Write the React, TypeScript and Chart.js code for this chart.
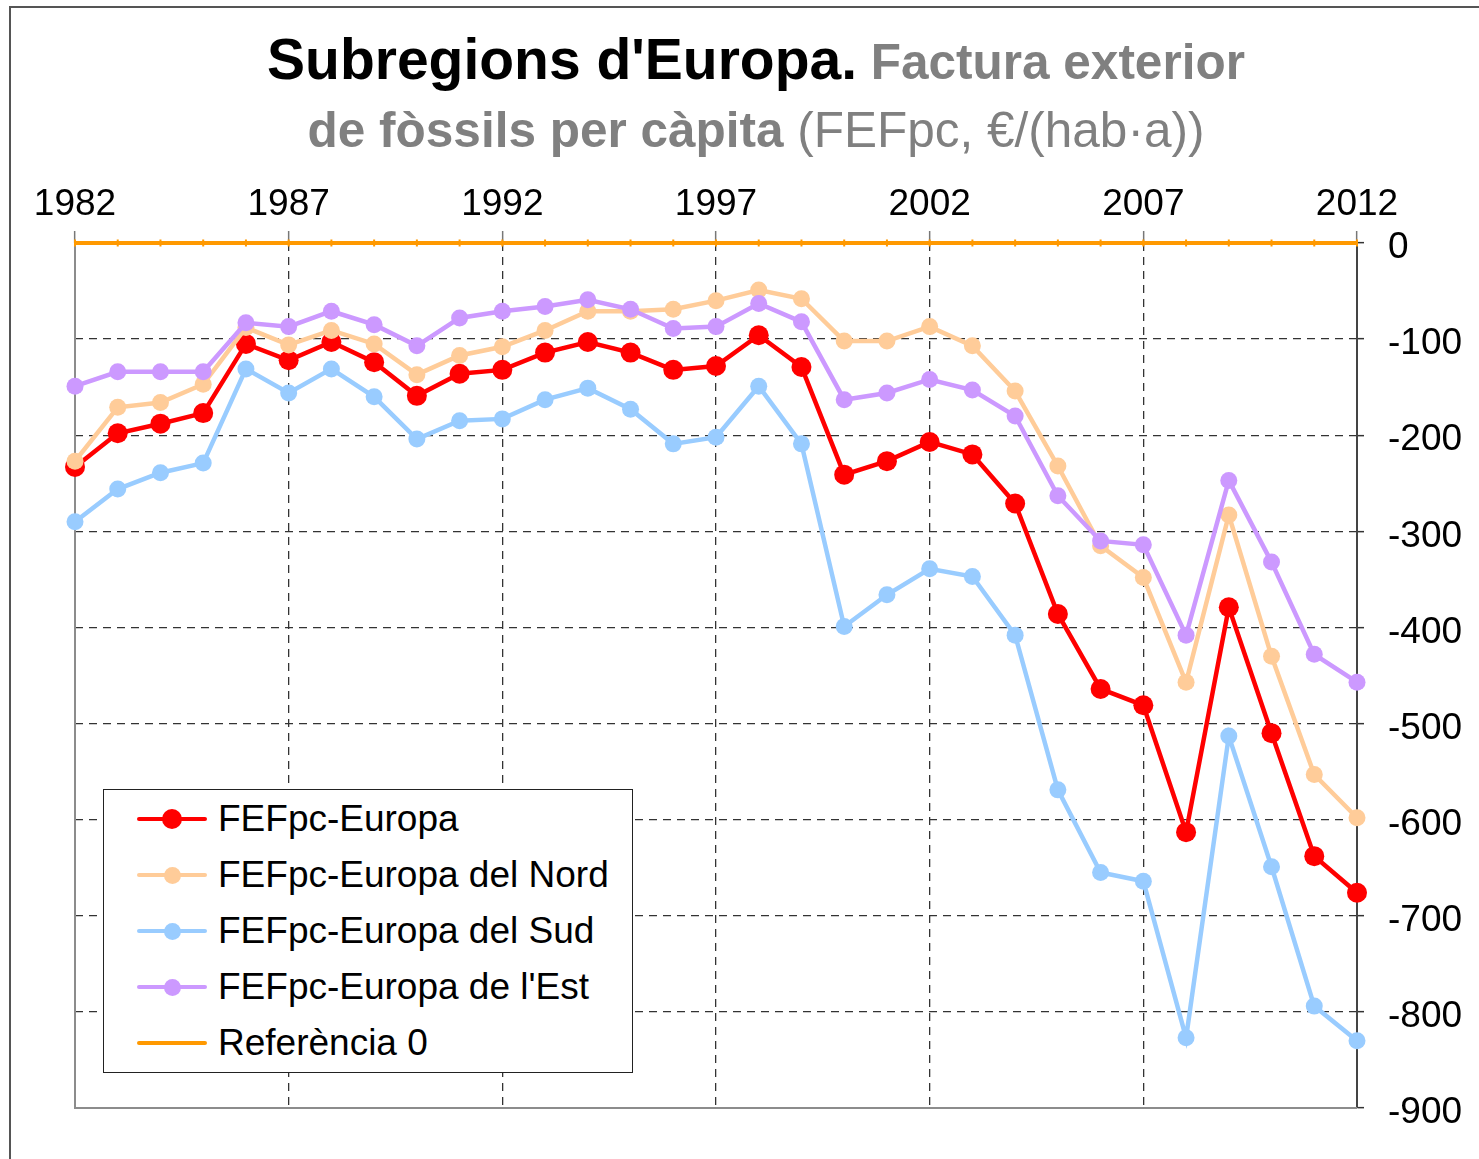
import React, { useEffect, useRef } from 'react';
import { Chart, registerables } from 'chart.js';

Chart.register(...registerables);

const FONT = '"Liberation Sans", Arial, Helvetica, sans-serif';

const YEARS = [
  1982, 1983, 1984, 1985, 1986, 1987, 1988, 1989, 1990, 1991, 1992, 1993, 1994, 1995, 1996, 1997,
  1998, 1999, 2000, 2001, 2002, 2003, 2004, 2005, 2006, 2007, 2008, 2009, 2010, 2011, 2012,
];

const EUROPA = [
  -233, -198, -188, -177, -105, -122, -103, -124, -159, -136, -132, -114, -103, -114, -132, -128,
  -96, -129, -241, -227, -207, -220, -271, -386, -464, -481, -613, -379, -510, -638, -676,
];

const NORD = [
  -227, -171, -166, -147, -88, -106, -91, -105, -137, -117, -108, -91, -71, -71, -69, -60,
  -49, -58, -102, -102, -87, -107, -154, -232, -315, -348, -457, -283, -430, -553, -598,
];

const SUD = [
  -290, -256, -239, -229, -131, -156, -131, -160, -204, -185, -183, -163, -151, -173, -209, -202,
  -149, -209, -399, -366, -339, -347, -408, -569, -655, -664, -827, -513, -649, -794, -830,
];

const EST = [
  -149, -134, -134, -134, -83, -87, -71, -85, -107, -78, -71, -66, -59, -69, -89, -87,
  -63, -82, -163, -156, -142, -153, -180, -263, -310, -314, -408, -247, -332, -428, -457,
];

const REFERENCIA = [
  0, 0, 0, 0, 0, 0, 0, 0, 0, 0, 0, 0, 0, 0, 0, 0,
  0, 0, 0, 0, 0, 0, 0, 0, 0, 0, 0, 0, 0, 0, 0,
];

const X_TICKS = [1982, 1987, 1992, 1997, 2002, 2007, 2012];
const Y_TICKS = [0, -100, -200, -300, -400, -500, -600, -700, -800, -900];

const SERIES_LABELS = [
  'FEFpc-Europa',
  'FEFpc-Europa del Nord',
  'FEFpc-Europa del Sud',
  "FEFpc-Europa de l'Est",
  'Referència 0',
];
const SERIES_VALUES = [EUROPA, NORD, SUD, EST, REFERENCIA];
const SERIES_COLORS = ['#FF0000', '#FFCC99', '#99CCFF', '#CC99FF', '#FF9900'];
const SERIES_RADIUS = [10, 8.5, 8.5, 8.5, 0];
const SERIES_WIDTH = [4.5, 4.5, 4.5, 4.5, 4];
const SERIES_ORDER = [4, 3, 2, 1, 0];

const frameAxes = {
  id: 'frameAxes',
  beforeDatasetsDraw(chart: any) {
    const { ctx, chartArea } = chart;
    ctx.save();
    ctx.strokeStyle = '#8c8c8c';
    ctx.lineWidth = 2;
    ctx.beginPath();
    ctx.moveTo(chartArea.left, chartArea.top);
    ctx.lineTo(chartArea.left, chartArea.bottom);
    ctx.lineTo(chartArea.right, chartArea.bottom);
    ctx.stroke();
    ctx.restore();
  },
};

export default function App() {
  const canvasRef = useRef<HTMLCanvasElement | null>(null);

  useEffect(() => {
    const canvas = canvasRef.current;
    if (!canvas) return;
    const datasets = SERIES_LABELS.map((label, s) => {
      const isRef = SERIES_RADIUS[s] === 0;
      return {
        label,
        data: YEARS.map((x, i) => ({ x, y: SERIES_VALUES[s][i] })),
        borderColor: SERIES_COLORS[s],
        backgroundColor: SERIES_COLORS[s],
        pointBackgroundColor: SERIES_COLORS[s],
        pointBorderColor: SERIES_COLORS[s],
        pointBorderWidth: isRef ? 2 : 0,
        pointStyle: isRef ? 'line' : 'circle',
        rotation: isRef ? 90 : 0,
        pointRadius: isRef ? 3.5 : SERIES_RADIUS[s],
        borderWidth: SERIES_WIDTH[s],
        tension: 0,
        order: SERIES_ORDER[s],
        clip: false,
      };
    });

    const chart = new Chart(canvas, {
      type: 'line',
      data: { datasets },
      plugins: [frameAxes],
      options: {
        animation: false,
        responsive: false,
        devicePixelRatio: 1,
        events: [],
        layout: { padding: { left: 75, right: 12, top: 180, bottom: 51 } },
        plugins: {
          legend: { display: false },
          title: { display: false },
          tooltip: { enabled: false },
        },
        scales: {
          x: {
            type: 'linear',
            position: 'top',
            min: 1982,
            max: 2012,
            afterBuildTicks: (scale: any) => {
              scale.ticks = X_TICKS.map((v) => ({ value: v }));
            },
            afterFit: (scale: any) => {
              scale.height = 63;
            },
            ticks: {
              callback: (v: any) => String(v),
              font: { size: 37, family: FONT },
              color: '#000',
              padding: 4,
              maxRotation: 0,
              autoSkip: false,
            },
            grid: {
              color: (c: any) =>
                c.tick && (c.tick.value === 1982 || c.tick.value === 2012) ? 'rgba(0,0,0,0)' : '#333',
              lineWidth: 1.3,
              drawTicks: true,
              tickLength: 12,
              tickColor: '#777',
              tickWidth: 1.5,
            },
            border: { display: false, dash: [8, 6] },
          },
          y: {
            type: 'linear',
            position: 'right',
            min: -900,
            max: 0,
            afterBuildTicks: (scale: any) => {
              scale.ticks = Y_TICKS.map((v) => ({ value: v }));
            },
            afterFit: (scale: any) => {
              scale.width = 110;
            },
            ticks: {
              callback: (v: any) => String(v),
              font: { size: 37, family: FONT },
              color: '#000',
              padding: 24,
              labelOffset: 5,
              autoSkip: false,
            },
            grid: {
              color: (c: any) =>
                c.tick && (c.tick.value === 0 || c.tick.value === -900) ? 'rgba(0,0,0,0)' : '#333',
              lineWidth: 1.3,
              drawTicks: true,
              tickLength: 7,
              tickColor: '#333',
              tickWidth: 1.5,
            },
            border: { display: true, color: '#444', width: 2, dash: [8, 6] },
          },
        },
      },
    } as any);

    return () => chart.destroy();
  }, []);

  return (
    <div
      style={{
        position: 'absolute',
        left: 0,
        top: 0,
        width: 1479,
        height: 1159,
        background: '#fff',
        fontFamily: FONT,
        overflow: 'hidden',
      }}
    >
      <div
        style={{
          position: 'absolute',
          left: 9,
          top: 6,
          width: 1480,
          height: 1160,
          borderTop: '2px solid #555',
          borderLeft: '2px solid #555',
        }}
      />
      <canvas ref={canvasRef} width={1479} height={1159} style={{ position: 'absolute', left: 0, top: 0 }} />
      <div
        style={{
          position: 'absolute',
          left: 0,
          width: 1512,
          top: 31,
          textAlign: 'center',
          whiteSpace: 'nowrap',
          fontSize: 57,
          lineHeight: '57px',
          fontWeight: 'bold',
        }}
      >
        <span style={{ color: '#000' }}>Subregions d'Europa.</span>
        <span style={{ color: '#808080', fontSize: 49.5 }}> Factura exterior</span>
      </div>
      <div
        style={{
          position: 'absolute',
          left: 0,
          width: 1512,
          top: 105,
          textAlign: 'center',
          whiteSpace: 'nowrap',
          fontSize: 49.5,
          lineHeight: '49px',
          color: '#808080',
        }}
      >
        <span style={{ fontWeight: 'bold' }}>de fòssils per càpita</span>
        <span> (FEFpc, €/(hab·a))</span>
      </div>
      <div
        style={{
          position: 'absolute',
          left: 103,
          top: 789,
          width: 530,
          height: 284,
          boxSizing: 'border-box',
          border: '1.5px solid #222',
          background: '#fff',
          paddingTop: 1,
        }}
      >
        {SERIES_LABELS.map((label, s) => (
          <div
            key={label}
            style={{ position: 'relative', height: 56, display: 'flex', alignItems: 'center' }}
          >
            <div
              style={{
                position: 'absolute',
                left: 33,
                top: 28 - SERIES_WIDTH[s] / 2,
                width: 70,
                height: SERIES_WIDTH[s],
                background: SERIES_COLORS[s],
                borderRadius: 2,
              }}
            />
            {SERIES_RADIUS[s] > 0 && (
              <div
                style={{
                  position: 'absolute',
                  left: 68 - SERIES_RADIUS[s],
                  top: 28 - SERIES_RADIUS[s],
                  width: SERIES_RADIUS[s] * 2,
                  height: SERIES_RADIUS[s] * 2,
                  borderRadius: '50%',
                  background: SERIES_COLORS[s],
                }}
              />
            )}
            <span
              style={{
                position: 'absolute',
                left: 114,
                fontSize: 37,
                lineHeight: '56px',
                color: '#000',
                whiteSpace: 'nowrap',
              }}
            >
              {label}
            </span>
          </div>
        ))}
      </div>
    </div>
  );
}
